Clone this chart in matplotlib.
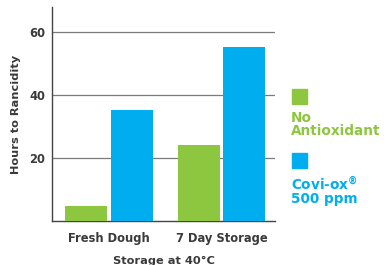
"""Hours to rancidity bar chart."""

import matplotlib

matplotlib.use("Agg")

import matplotlib.pyplot as plt
import numpy as np
from matplotlib.patches import Rectangle

categories = ["Fresh Dough", "7 Day Storage"]
series_names = ["No\nAntioxidant", "Covi-ox$^{®}$\n500 ppm"]
no_antioxidant = [4.9, 24.3]
covi_ox = [35.2, 55.4]
y_ticks = [20, 40, 60]

GREEN = "#8dc63f"
BLUE = "#00aeef"
TEXT = "#3a3a3a"

plt.rcParams["font.family"] = ["DejaVu Sans"]
plt.rcParams["font.weight"] = "bold"

fig = plt.figure(figsize=(3.84, 2.65), dpi=100)
ax = fig.add_axes([52 / 384, 1 - 221 / 265, (275 - 52) / 384, (221 - 7) / 265])

x = np.arange(len(categories))
width = 0.373
off = 0.204
ax.bar(x - off, no_antioxidant, width, color=GREEN, zorder=3)
ax.bar(x + off, covi_ox, width, color=BLUE, zorder=3)

ax.set_xlim(-0.507, 1.476)
ax.set_ylim(0, 68)
ax.set_yticks(y_ticks)
ax.set_xticks(x)
ax.set_xticklabels(categories)
ax.tick_params(length=0, labelsize=8.3, colors=TEXT)
ax.tick_params(axis="x", pad=8)
ax.tick_params(axis="y", pad=5)
for lab in ax.get_xticklabels() + ax.get_yticklabels():
    lab.set_fontweight("bold")
ax.grid(axis="y", color="#7a7a7a", linewidth=0.9, zorder=0)
for side in ["top", "right"]:
    ax.spines[side].set_visible(False)
for side in ["left", "bottom"]:
    ax.spines[side].set_color("#444444")
    ax.spines[side].set_linewidth(1.0)

ax.set_ylabel("Hours to Rancidity", fontsize=8.2, fontweight="bold", color=TEXT, labelpad=6)
ax.set_xlabel("Storage at 40°C", fontsize=8.2, fontweight="bold", color=TEXT, labelpad=8)

# legend: square above multi-line label
for name, color, sq_top, txt_top in [(series_names[0], GREEN, 89, 111), (series_names[1], BLUE, 153, 174)]:
    fig.add_artist(Rectangle((292 / 384, 1 - (sq_top + 15) / 265), 15 / 384, 15 / 265,
                             transform=fig.transFigure, color=color))
    fig.text(291 / 384, 1 - txt_top / 265, name, color=color, fontsize=9.8,
             fontweight="bold", va="top", ha="left", linespacing=0.9)

fig.savefig("out.png", dpi=100)
plt.close(fig)
